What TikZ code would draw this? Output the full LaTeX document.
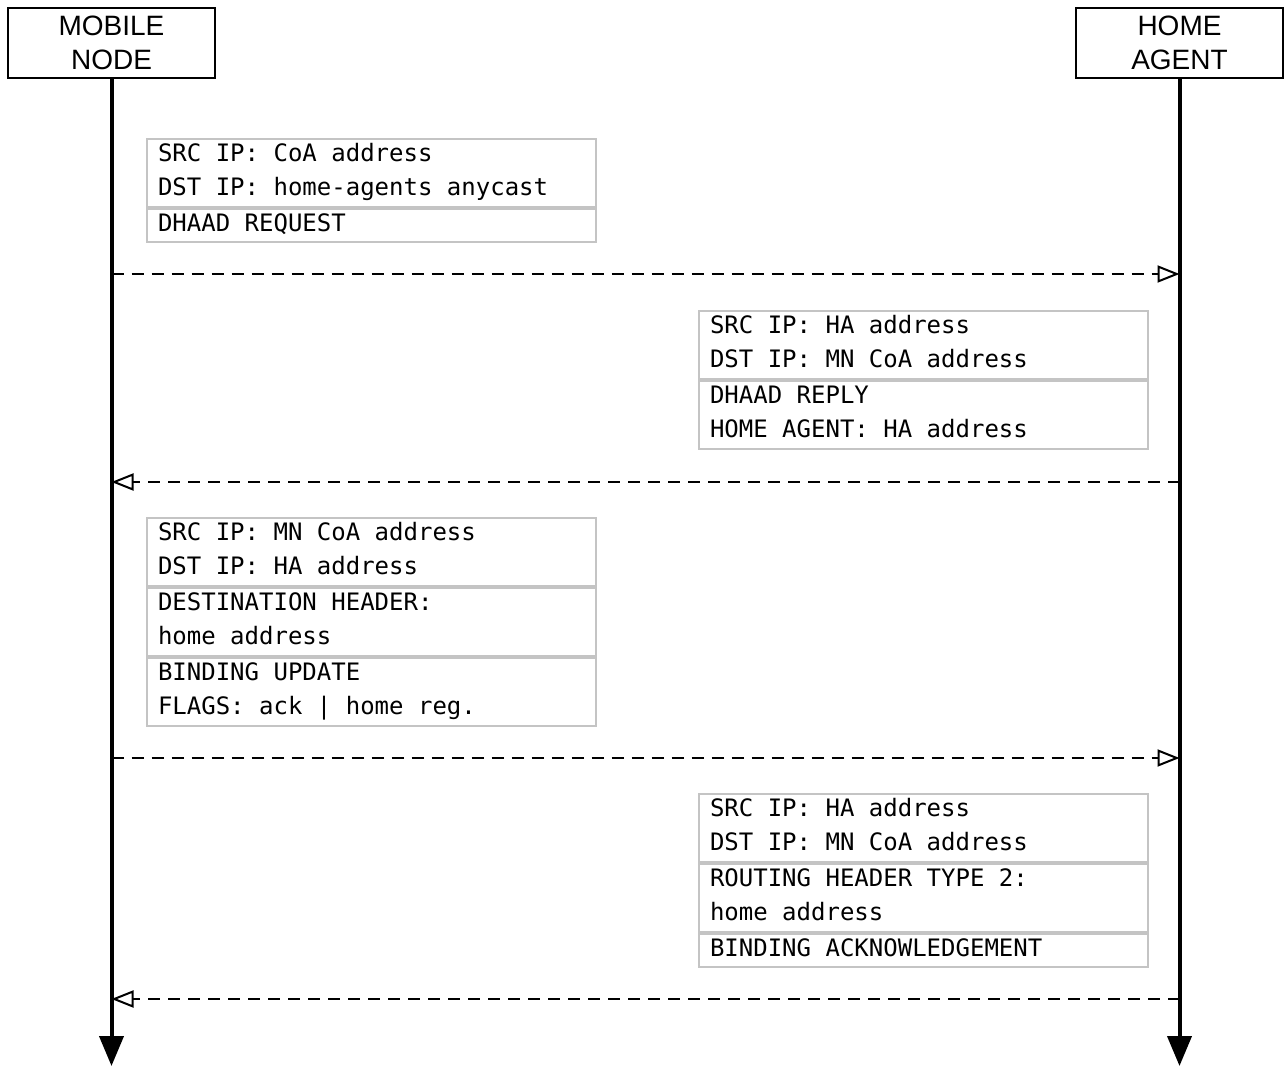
\documentclass[tikz,border=0pt]{standalone}
\usepackage{fontspec}
\setmainfont{Liberation Sans}
\newfontfamily\monof[WordSpace={1,0,0}]{DejaVu Sans Mono}
\usetikzlibrary{arrows.meta}
\definecolor{boxgray}{HTML}{C4C4C4}
\newcommand\rowstrut{\rule[-11pt]{0pt}{33.5pt}}
\newcommand\rowspacing{\XeTeXinterwordspaceshaping=0\relax
  \fontdimen2\font=14.45pt\relax\fontdimen3\font=0pt\relax\fontdimen4\font=0pt\relax\fontdimen7\font=0pt\relax
  \spaceskip=14.45pt plus 0pt minus 0pt\relax\xspaceskip=14.45pt plus 0pt minus 0pt\relax}
\newcommand\rowfont{\monof\fontsize{24}{34.4}\selectfont\rowspacing
  \lineskip=0pt\relax\lineskiplimit=-100pt\relax}
\tikzset{
  actor/.style={draw, line width=2pt, minimum width=207pt, minimum height=70pt,
    font=\fontsize{28}{34}\selectfont, align=center, inner sep=0pt},
  life/.style={line width=4pt, -{Triangle[length=30pt,width=24pt]}},
  row/.style={draw=boxgray, line width=2pt, anchor=north west, inner xsep=11pt, inner ysep=0pt,
    text width=427pt, align=left, font=\rowfont,
    execute at begin node={\rowspacing\rowstrut}, execute at end node={\rowstrut}},
  msg/.style={line width=2pt, dash pattern=on 12pt off 8pt,
    -{Triangle[open, length=22pt, width=17pt, line width=2pt]}}
}
\begin{document}
\begin{tikzpicture}[x=1pt,y=-1pt]
\useasboundingbox (0,0) rectangle (1285,1068);
\node[actor] (mn) at (111.5,43) {MOBILE\\NODE};
\node[actor] (ha) at (1179.5,43) {HOME\\AGENT};
\coordinate (mnend) at (111.5,1066);
\coordinate (haend) at (1179.5,1066);
\draw[life] (mn.south) -- (mnend);
\draw[life] (ha.south) -- (haend);

% message 1
\node[row] (b1a) at (146,138) {SRC IP: CoA address\\DST IP: home-agents anycast};
\node[row] (b1b) at (b1a.south west) {DHAAD REQUEST};
\coordinate (m1s) at (111.5,274);
\coordinate (m1e) at (1179.5,274);
\draw[msg] (m1s) -- (m1e);

% message 2
\node[row] (b2a) at (698,310) {SRC IP: HA address\\DST IP: MN CoA address};
\node[row] (b2b) at (b2a.south west) {DHAAD REPLY\\HOME AGENT: HA address};
\coordinate (m2s) at (1179.5,482);
\coordinate (m2e) at (111.5,482);
\draw[msg] (m2s) -- (m2e);

% message 3
\node[row] (b3a) at (146,517) {SRC IP: MN CoA address\\DST IP: HA address};
\node[row] (b3b) at (b3a.south west) {DESTINATION HEADER:\\home address};
\node[row] (b3c) at (b3b.south west) {BINDING UPDATE\\FLAGS: ack | home reg.};
\coordinate (m3s) at (111.5,758);
\coordinate (m3e) at (1179.5,758);
\draw[msg] (m3s) -- (m3e);

% message 4
\node[row] (b4a) at (698,793) {SRC IP: HA address\\DST IP: MN CoA address};
\node[row] (b4b) at (b4a.south west) {ROUTING HEADER TYPE 2:\\home address};
\node[row] (b4c) at (b4b.south west) {BINDING ACKNOWLEDGEMENT};
\coordinate (m4s) at (1179.5,999);
\coordinate (m4e) at (111.5,999);
\draw[msg] (m4s) -- (m4e);
\end{tikzpicture}
\end{document}
